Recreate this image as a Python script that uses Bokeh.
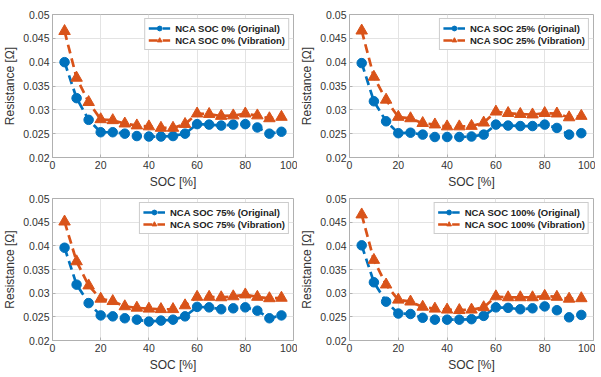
from bokeh.plotting import figure
from bokeh.layouts import column, row
from bokeh.models import FixedTicker, Legend, LegendItem, ColumnDataSource
from bokeh.embed import file_html
from bokeh.resources import INLINE

soc = [5, 10, 15, 20, 25, 30, 35, 40, 45, 50, 55, 60, 65, 70, 75, 80, 85, 90, 95]

orig_0 = [0.0400, 0.03245, 0.0279, 0.0253, 0.0253, 0.0250, 0.0245, 0.0244, 0.0244, 0.0245,
          0.0250, 0.0270, 0.0269, 0.0267, 0.0269, 0.0270, 0.0263, 0.0250, 0.0254]
vib_0 = [0.0465, 0.0367, 0.0316, 0.0280, 0.0278, 0.0271, 0.0267, 0.0265, 0.0262, 0.0262,
         0.0270, 0.0292, 0.0291, 0.0287, 0.0288, 0.0292, 0.0288, 0.0282, 0.0285]

orig_25 = [0.0398, 0.0318, 0.0276, 0.0251, 0.0252, 0.0248, 0.0243, 0.0243, 0.0243, 0.0244,
           0.0248, 0.0269, 0.0267, 0.0266, 0.0266, 0.0269, 0.0262, 0.0248, 0.0251]
vib_25 = [0.0466, 0.0369, 0.0321, 0.0285, 0.0282, 0.0272, 0.0269, 0.0265, 0.0265, 0.0266,
          0.0273, 0.0296, 0.0293, 0.0291, 0.0290, 0.0293, 0.0292, 0.0284, 0.0287]

orig_75 = [0.0396, 0.0318, 0.0279, 0.0253, 0.0251, 0.0247, 0.0244, 0.0240, 0.0242, 0.0244,
           0.0251, 0.0271, 0.0270, 0.0266, 0.0268, 0.0270, 0.0263, 0.0247, 0.0253]
vib_75 = [0.0451, 0.0367, 0.0316, 0.0288, 0.0283, 0.0272, 0.0269, 0.0267, 0.0266, 0.0266,
          0.0274, 0.0292, 0.0292, 0.0291, 0.0293, 0.0297, 0.0292, 0.0289, 0.0290]

orig_100 = [0.0401, 0.0323, 0.0282, 0.0257, 0.0256, 0.0248, 0.0244, 0.0244, 0.0244, 0.0245,
            0.0252, 0.0270, 0.0269, 0.0266, 0.0268, 0.0272, 0.0264, 0.0249, 0.0254]
vib_100 = [0.0466, 0.0370, 0.0318, 0.0286, 0.0282, 0.0271, 0.0267, 0.0265, 0.0264, 0.0265,
           0.0270, 0.0293, 0.0291, 0.0291, 0.0291, 0.0294, 0.0292, 0.0288, 0.0289]

panel_labels = ["0%", "25%", "75%", "100%"]
x_ticks = [0, 20, 40, 60, 80, 100]
y_ticks = [0.02, 0.025, 0.03, 0.035, 0.04, 0.045, 0.05]
y_tick_labels = ["0.02", "0.025", "0.03", "0.035", "0.04", "0.045", "0.05"]

BLUE = "#0072BD"
ORANGE = "#D95319"
FONT = "Liberation Sans"


def make_panel(label, orig, vib, width, height, bl, br, bt, bb):
    p = figure(width=width, height=height, x_range=(0, 100), y_range=(0.02, 0.05),
               output_backend="svg", toolbar_location=None,
               min_border_left=bl, min_border_right=br, min_border_top=bt, min_border_bottom=bb)
    p.background_fill_color = "white"
    p.border_fill_color = "white"
    p.outline_line_color = "#b0b0b0"
    p.outline_line_width = 1
    p.grid.grid_line_color = "#e3e3e3"
    p.grid.grid_line_width = 1

    p.xaxis.ticker = FixedTicker(ticks=x_ticks)
    p.yaxis.ticker = FixedTicker(ticks=y_ticks)
    p.yaxis.major_label_overrides = {t: s for t, s in zip(y_ticks, y_tick_labels)}
    p.xaxis.axis_label = "SOC [%]"
    p.yaxis.axis_label = "Resistance [Ω]"
    for ax in (p.xaxis, p.yaxis):
        ax.axis_line_color = "#b0b0b0"
        ax.major_tick_line_color = "#b0b0b0"
        ax.major_tick_in = 3
        ax.major_tick_out = 0
        ax.minor_tick_line_color = None
        ax.major_label_text_font = FONT
        ax.major_label_text_font_size = "10.5px"
        ax.major_label_text_color = "#333333"
        ax.axis_label_text_font = FONT
        ax.axis_label_text_font_size = "12px"
        ax.axis_label_text_font_style = "normal"
        ax.axis_label_text_color = "#333333"
        ax.major_label_standoff = 3
        ax.axis_label_standoff = 3

    src = ColumnDataSource(dict(x=soc, o=orig, v=vib))
    lo = p.line("x", "o", source=src, line_color=BLUE, line_width=2.7, line_dash="9 5")
    so = p.scatter("x", "o", source=src, marker="circle", size=9.5, fill_color=BLUE, line_color=BLUE)
    lv = p.line("x", "v", source=src, line_color=ORANGE, line_width=2.7, line_dash="9 5")
    sv = p.scatter("x", "v", source=src, marker="triangle", size=11.5, fill_color=ORANGE, line_color=ORANGE)

    legend = Legend(items=[
        LegendItem(label=f"NCA SOC {label} (Original)", renderers=[lo, so]),
        LegendItem(label=f"NCA SOC {label} (Vibration)", renderers=[lv, sv]),
    ], location="top_right")
    legend.margin = 4
    legend.padding = 3
    legend.spacing = 0
    legend.glyph_width = 22
    legend.glyph_height = 12
    legend.label_height = 12
    legend.label_standoff = 5
    legend.label_text_font = FONT
    legend.label_text_font_size = "9.5px"
    legend.label_text_font_style = "bold"
    legend.label_text_color = "#222222"
    legend.border_line_color = "#999999"
    legend.border_line_width = 1
    legend.background_fill_alpha = 1.0
    p.add_layout(legend)
    return p


p1 = make_panel(panel_labels[0], orig_0, vib_0, 297, 191, 51, 4, 14, 30)
p2 = make_panel(panel_labels[1], orig_25, vib_25, 298, 191, 52, 2, 14, 30)
p3 = make_panel(panel_labels[2], orig_75, vib_75, 297, 183, 51, 4, 7, 30)
p4 = make_panel(panel_labels[3], orig_100, vib_100, 298, 183, 52, 2, 7, 30)

layout = column(row(p1, p2), row(p3, p4))
open("out.html", "w").write(file_html(layout, INLINE))
